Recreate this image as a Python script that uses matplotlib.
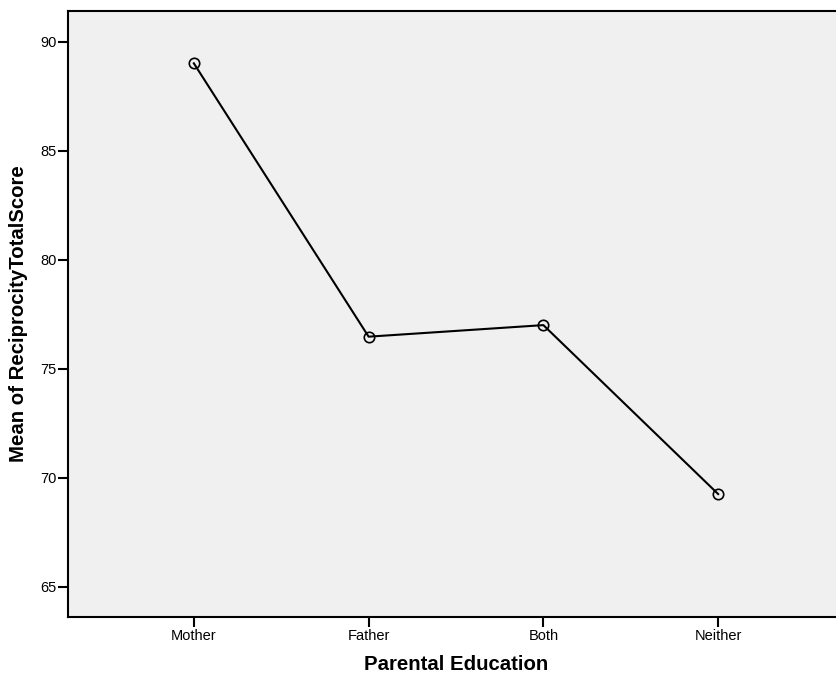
import matplotlib
matplotlib.use("Agg")
import matplotlib.pyplot as plt

categories = ["Mother", "Father", "Both", "Neither"]
means = [89.01, 76.47, 77.0, 69.25]
yticks = [65, 70, 75, 80, 85, 90]

plt.rcParams['font.family'] = ['Liberation Sans', 'DejaVu Sans']

W, H = 836, 680
fig = plt.figure(figsize=(W/100, H/100), dpi=100)
ax = fig.add_axes([68/W, (H-617)/H, (844-68)/W, (617-11)/H])
ax.set_facecolor('#F0F0F0')

x = list(range(len(categories)))
ax.plot(x, means, color='black', linewidth=1.5, marker='o', markersize=7.5,
        markerfacecolor='none', markeredgecolor='black', markeredgewidth=1.2)

ax.set_xlim(-0.72, 3.72)
ax.set_ylim(63.61, 91.41)
ax.set_xticks(x)
ax.set_xticklabels(categories)
ax.set_yticks(yticks)
ax.tick_params(axis='both', direction='out', length=7, width=1.5, labelsize=10.5, colors='black')
ax.tick_params(axis='y', pad=1)
ax.tick_params(axis='x', pad=2)
for s in ['left', 'bottom', 'top', 'right']:
    ax.spines[s].set_linewidth(1.5)
    ax.spines[s].set_color('black')

ax.set_xlabel('Parental Education', fontsize=14.7, fontweight='bold', labelpad=8)
ax.set_ylabel('Mean of ReciprocityTotalScore', fontsize=14.7, fontweight='bold', labelpad=9)

fig.savefig('out.png', dpi=100)
